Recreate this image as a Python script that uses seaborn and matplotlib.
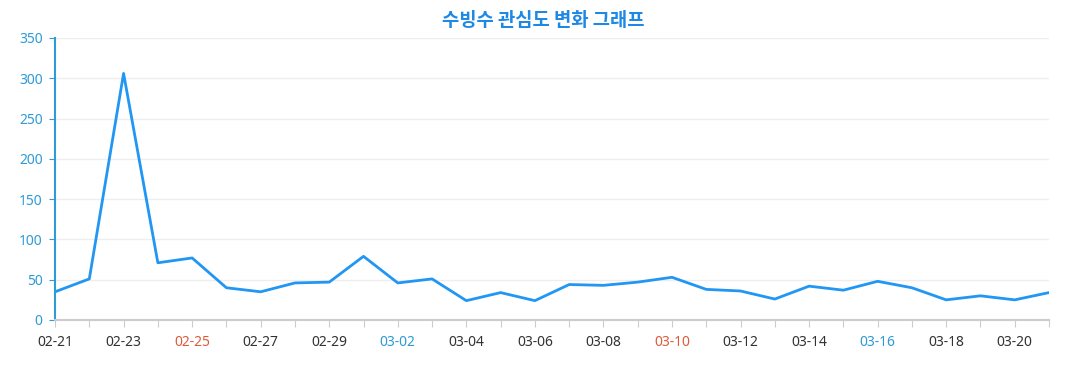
import pandas as pd
import seaborn as sns
import matplotlib.pyplot as plt

dates = ['02-21', '02-22', '02-23', '02-24', '02-25', '02-26', '02-27', '02-28', '02-29',
         '03-01', '03-02', '03-03', '03-04', '03-05', '03-06', '03-07', '03-08', '03-09',
         '03-10', '03-11', '03-12', '03-13', '03-14', '03-15', '03-16', '03-17', '03-18',
         '03-19', '03-20', '03-21']
interest = [35, 51, 306, 71, 77, 40, 35, 46, 47,
            79, 46, 51, 24, 34, 24, 44, 43, 47,
            53, 38, 36, 26, 42, 37, 48, 40, 25,
            30, 25, 34]
red_days = ['02-25', '03-10']
blue_days = ['03-02', '03-16']
yticks = [0, 50, 100, 150, 200, 250, 300, 350]

df = pd.DataFrame({'date': dates, 'interest': interest})
df['pos'] = range(len(df))

sns.set_style('white')
plt.rcParams['font.family'] = ['Noto Sans CJK KR', 'DejaVu Sans']

fig = plt.figure(figsize=(10.77, 3.9), dpi=100)
ax = fig.add_axes([0.0511, 0.1795, 0.9229, 0.7231])

sns.lineplot(data=df, x='pos', y='interest', ax=ax, color='#2196F3', linewidth=2)

ax.set_xlim(0, len(df) - 1)
ax.set_ylim(0, 350)
ax.set_yticks(yticks)
ax.yaxis.grid(True, color='#eeeeee', linewidth=1)
ax.set_axisbelow(True)

ax.set_xticks(df['pos'])
labels = [d if i % 2 == 0 else '' for i, d in enumerate(dates)]
ax.set_xticklabels(labels, fontsize=10, family=['Noto Sans', 'DejaVu Sans'])
for lab, d in zip(ax.get_xticklabels(), dates):
    if d in red_days:
        lab.set_color('#E05A3A')
    elif d in blue_days:
        lab.set_color('#2E9BD6')
    else:
        lab.set_color('#333333')

for lab in ax.get_yticklabels():
    lab.set_family(['Noto Sans', 'DejaVu Sans'])
    lab.set_fontsize(10)
    lab.set_color('#2E9BD6')

ax.tick_params(axis='x', length=5, color='#cccccc', pad=6, bottom=True)
ax.tick_params(axis='y', length=4, color='#2E9BD6', pad=5, left=True)

for s in ['top', 'right']:
    ax.spines[s].set_visible(False)
ax.spines['left'].set_color('#2E9BD6')
ax.spines['left'].set_linewidth(1.5)
ax.spines['bottom'].set_color('#cccccc')
ax.spines['bottom'].set_linewidth(1.5)

ax.set_xlabel('')
ax.set_ylabel('')
fig.suptitle('수빙수 관심도 변화 그래프', x=0.504, y=0.972, fontsize=13.5,
             fontweight='bold', color='#1E88E5')

fig.savefig('out.png', dpi=100)
